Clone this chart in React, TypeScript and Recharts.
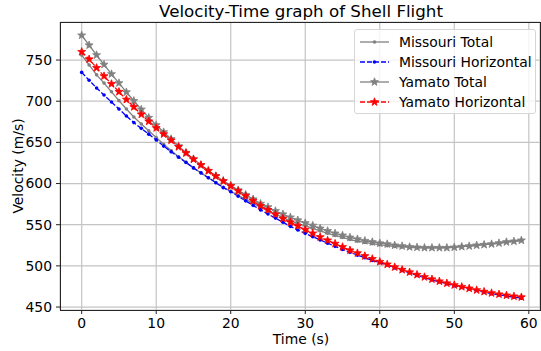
import React from "react";
import { CartesianGrid, Line, LineChart, XAxis, YAxis } from "recharts";

const times = [
  0, 1, 2, 3, 4, 5, 6, 7, 8, 9, 10, 11, 12, 13, 14, 15, 16, 17, 18, 19, 20, 21, 22, 23, 24, 25, 26, 27, 28, 29,
  30, 31, 32, 33, 34, 35, 36, 37, 38, 39, 40, 41, 42, 43, 44, 45, 46, 47, 48, 49, 50, 51, 52, 53, 54, 55, 56, 57, 58, 59,
];

const missouriTotal = [
  756, 744, 732, 722, 711.4, 700.7, 690.5, 680.8, 672.4, 664, 656, 647.6, 640, 632.5, 626, 619, 613, 607, 601.2, 595.4,
  590.8, 585.7, 580.8, 576, 571, 567, 563, 558.8, 554.7, 551.7, 548.6, 545.5, 542.5, 539.5, 537, 534.5, 532, 530, 528.5, 527,
  525.5, 524.5, 523.5, 523, 522.5, 522, 521.8, 521.8, 522, 522.3, 522.7, 523.3, 524, 525, 525.7, 526.5, 527.5, 528.7, 529.8, 530.8,
];

const missouriHorizontal = [
  735, 725.5, 716, 707.5, 699, 690.5, 682, 674, 667, 660, 653, 645.5, 638.5, 632, 625.5, 619, 613, 607, 601, 595,
  590, 584.5, 579, 573.5, 568, 563, 558, 553, 548, 543.5, 539.5, 535.5, 531.5, 527.5, 523.7, 520, 516.5, 513, 509.8, 506.6,
  504, 501, 497.5, 494.5, 491.5, 488.5, 485.8, 483, 480.7, 478.2, 476, 474, 472, 470, 468, 466.3, 464.8, 463.4, 462, 460.8,
];

const yamatoTotal = [
  780, 768, 756, 744.5, 733, 722, 711, 700.5, 690, 680, 671, 662.5, 654.1, 645.5, 637.5, 629.7, 622.5, 615.5, 609.1, 603.3,
  597.6, 592, 586.4, 581, 575.6, 571.4, 566.7, 562.7, 559, 555.5, 552, 549, 545.5, 542.5, 539.5, 537, 534.5, 532.5, 530.5, 529,
  527.5, 526.5, 525, 524, 523, 522.5, 522, 522, 522, 522, 522.5, 523.3, 524, 525, 525.7, 526.5, 527.7, 529, 529.8, 531,
];

const yamatoHorizontal = [
  760, 751, 740.5, 730.5, 721, 711.5, 702, 693, 684, 675.5, 667.5, 660, 652.5, 644.5, 637, 629.5, 622.5, 615.5, 609, 603,
  597, 591, 585, 579, 573, 568, 562.5, 557.5, 553, 548.5, 544, 539.5, 535, 531, 527, 523, 519, 515.5, 512, 508.5,
  505, 501.8, 498.5, 495.3, 492.3, 489.3, 486.5, 483.8, 481.3, 478.9, 476.7, 474.6, 472.6, 470.6, 468.7, 467, 465.5, 464.2, 463, 462,
];

const xTicks = [0, 10, 20, 30, 40, 50, 60];
const yTicks = [450, 500, 550, 600, 650, 700, 750];

const data = times.map((t, i) => ({
  t,
  missouriTotal: missouriTotal[i],
  missouriHorizontal: missouriHorizontal[i],
  yamatoTotal: yamatoTotal[i],
  yamatoHorizontal: yamatoHorizontal[i],
}));

const FONT = "'DejaVu Sans', sans-serif";
const GRAY = "#808080";

function starPath(cx: number, cy: number, r = 4.2, ri = 1.7) {
  let d = "";
  for (let k = 0; k < 10; k++) {
    const a = (-90 + k * 36) * (Math.PI / 180);
    const rr = k % 2 === 0 ? r : ri;
    d += (k === 0 ? "M" : "L") + (cx + rr * Math.cos(a)).toFixed(2) + "," + (cy + rr * Math.sin(a)).toFixed(2);
  }
  return d + "Z";
}

const starDot = (color: string) => (props: any) => {
  const { cx, cy, index } = props;
  if (cx == null || cy == null) return <g key={index} />;
  return <path key={index} d={starPath(cx, cy)} fill={color} stroke={color} strokeWidth={0.8} />;
};

const pointDot = (color: string) => (props: any) => {
  const { cx, cy, index } = props;
  if (cx == null || cy == null) return <g key={index} />;
  return <circle key={index} cx={cx} cy={cy} r={1.8} fill={color} />;
};

const legendItems = [
  { name: "Missouri Total", color: GRAY, dash: "", star: false },
  { name: "Missouri Horizontal", color: "#0000ff", dash: "5 2", star: false },
  { name: "Yamato Total", color: GRAY, dash: "", star: true },
  { name: "Yamato Horizontal", color: "#ff0000", dash: "5 2", star: true },
];

function ChartLegend() {
  return (
    <div
      style={{
        position: "absolute",
        left: 354,
        top: 29,
        width: 182,
        height: 85,
        boxSizing: "border-box",
        border: "1px solid #d6d6d6",
        borderRadius: 3,
        background: "rgba(255,255,255,0.8)",
        fontFamily: FONT,
        fontSize: 13.9,
        color: "#000",
        paddingTop: 2,
      }}
    >
      {legendItems.map((it) => (
        <div key={it.name} style={{ display: "flex", alignItems: "center", height: 20 }}>
          <svg width={44} height={20} style={{ flex: "none" }}>
            <line x1={5} x2={34} y1={10} y2={10} stroke={it.color} strokeWidth={1.3} strokeDasharray={it.dash} />
            {it.star ? (
              <path d={starPath(19.5, 10)} fill={it.color} stroke={it.color} strokeWidth={0.8} />
            ) : (
              <circle cx={19.5} cy={10} r={1.8} fill={it.color} />
            )}
          </svg>
          <span style={{ whiteSpace: "nowrap" }}>{it.name}</span>
        </div>
      ))}
    </div>
  );
}

export default function App() {
  const tick = { fill: "#000", fontSize: 13.9, fontFamily: FONT };
  return (
    <div style={{ position: "absolute", left: 0, top: 0, width: 541, height: 351, background: "#fff" }}>
      <LineChart width={541} height={351} data={data} margin={{ top: 22, right: 1, bottom: 0, left: 0 }}>
        <CartesianGrid stroke="#c4c4c4" strokeWidth={1.2} />
        <XAxis
          dataKey="t"
          type="number"
          domain={[-2.91, 61.5]}
          ticks={xTicks}
          allowDataOverflow
          height={41}
          axisLine={false}
          tickSize={4}
          tickMargin={4}
          tickLine={{ stroke: "#222" }}
          tick={tick}
        />
        <YAxis
          type="number"
          domain={[446.4, 796.2]}
          ticks={yTicks}
          allowDataOverflow
          width={60}
          axisLine={false}
          tickSize={4}
          tickMargin={4}
          tickLine={{ stroke: "#222" }}
          tick={tick}
        />
        <Line
          dataKey="missouriTotal"
          stroke={GRAY}
          strokeWidth={1.3}
          dot={pointDot(GRAY)}
          activeDot={false}
          isAnimationActive={false}
        />
        <Line
          dataKey="missouriHorizontal"
          stroke="#0000ff"
          strokeWidth={1.3}
          strokeDasharray="5 2"
          dot={pointDot("#0000ff")}
          activeDot={false}
          isAnimationActive={false}
        />
        <Line
          dataKey="yamatoTotal"
          stroke={GRAY}
          strokeWidth={1.3}
          dot={starDot(GRAY)}
          activeDot={false}
          isAnimationActive={false}
        />
        <Line
          dataKey="yamatoHorizontal"
          stroke="#ff0000"
          strokeWidth={1.3}
          strokeDasharray="5 2"
          dot={starDot("#ff0000")}
          activeDot={false}
          isAnimationActive={false}
        />
      </LineChart>
      <div
        style={{
          position: "absolute",
          left: 60,
          top: 22,
          width: 481,
          height: 289,
          boxSizing: "border-box",
          border: "1px solid #262626",
          pointerEvents: "none",
        }}
      />
      <ChartLegend />
      <div
        style={{
          position: "absolute",
          left: 0,
          width: 602,
          top: 1,
          textAlign: "center",
          fontFamily: FONT,
          fontSize: 16.7,
          color: "#000",
        }}
      >
        Velocity-Time graph of Shell Flight
      </div>
      <div
        style={{
          position: "absolute",
          left: 0,
          width: 602,
          top: 332,
          lineHeight: "15px",
          textAlign: "center",
          fontFamily: FONT,
          fontSize: 13.9,
          color: "#000",
        }}
      >
        Time (s)
      </div>
      <div
        style={{
          position: "absolute",
          left: 18,
          top: 166,
          lineHeight: "15px",
          transform: "translate(-50%, -50%) rotate(-90deg)",
          whiteSpace: "nowrap",
          fontFamily: FONT,
          fontSize: 13.9,
          color: "#000",
        }}
      >
        Velocity (m/s)
      </div>
    </div>
  );
}
